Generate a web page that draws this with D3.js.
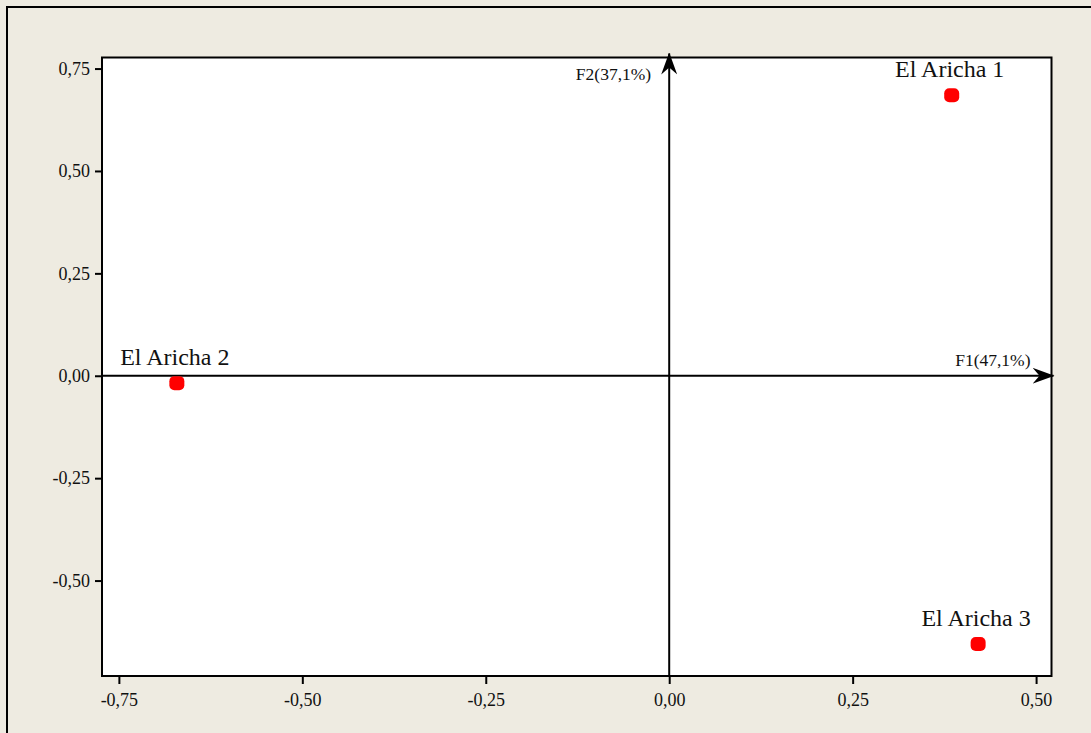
<!DOCTYPE html>
<html>
<head>
<meta charset="utf-8">
<script src="https://cdn.jsdelivr.net/npm/d3@7"></script>
<style>
  body { margin: 0; background: #eeebe1; }
  svg { display: block; }
  text { font-family: "Liberation Serif", "Times New Roman", serif; fill: #111; }
</style>
</head>
<body>
<div id="chart"></div>
<script>
// station names and factor scores
var sites = ["El Aricha 1", "El Aricha 2", "El Aricha 3"];
var f1Scores = [0.385, -0.671, 0.421];
var f2Scores = [0.685, -0.018, -0.655];
var xTicks = [-0.75, -0.50, -0.25, 0.00, 0.25, 0.50];
var yTicks = [-0.50, -0.25, 0.00, 0.25, 0.50, 0.75];
var xTitle = "F1(47,1%)";
var yTitle = "F2(37,1%)";

var W = 1091, H = 733;
var plot = {left: 102, top: 57.5, right: 1051.5, bottom: 676};

var locale = d3.formatLocale({decimal: ",", thousands: ".", grouping: [3], currency: ["", ""], minus: "-"});
var fmt = locale.format(".2f");

var x = d3.scaleLinear().domain([-0.773, 0.521]).range([plot.left, plot.right]);
var y = d3.scaleLinear().domain([-0.733, 0.777]).range([plot.bottom, plot.top]);

var svg = d3.select("#chart").append("svg")
    .attr("width", W).attr("height", H);

// outer frame
svg.append("rect")
   .attr("x", 7).attr("y", 7)
   .attr("width", W + 10).attr("height", H + 10)
   .attr("fill", "#eeebe1")
   .attr("stroke", "#000").attr("stroke-width", 2);

// plot area
svg.append("rect")
   .attr("x", plot.left).attr("y", plot.top)
   .attr("width", plot.right - plot.left).attr("height", plot.bottom - plot.top)
   .attr("fill", "#fff")
   .attr("stroke", "#000").attr("stroke-width", 2);

var xAxis = d3.axisBottom(x).tickValues(xTicks).tickFormat(fmt).tickSize(8).tickPadding(9);
var yAxis = d3.axisLeft(y).tickValues(yTicks).tickFormat(fmt).tickSize(7).tickPadding(5);

var gx = svg.append("g")
    .attr("transform", "translate(0," + plot.bottom + ")")
    .call(xAxis);
var gy = svg.append("g")
    .attr("transform", "translate(" + plot.left + ",0)")
    .call(yAxis);

[gx, gy].forEach(function(g) {
    g.select(".domain").remove();
    g.selectAll(".tick line").attr("stroke", "#000").attr("stroke-width", 2);
    g.selectAll(".tick text")
     .attr("font-family", "Liberation Serif, serif")
     .attr("font-size", 18)
     .attr("fill", "#111");
});

// arrow marker
var defs = svg.append("defs");
defs.append("marker")
    .attr("id", "arrow")
    .attr("viewBox", "0 0 22 16")
    .attr("refX", 21).attr("refY", 8)
    .attr("markerWidth", 22).attr("markerHeight", 16)
    .attr("markerUnits", "userSpaceOnUse")
    .attr("orient", "auto")
  .append("path")
    .attr("d", "M0,0 L22,8 L0,16 L7,8 Z")
    .attr("fill", "#000");

// factor axes through origin
svg.append("line")
   .attr("x1", plot.left).attr("x2", plot.right + 2)
   .attr("y1", y(0)).attr("y2", y(0))
   .attr("stroke", "#000").attr("stroke-width", 2)
   .attr("marker-end", "url(#arrow)");

svg.append("line")
   .attr("x1", x(0)).attr("x2", x(0))
   .attr("y1", plot.bottom).attr("y2", plot.top - 4)
   .attr("stroke", "#000").attr("stroke-width", 2)
   .attr("marker-end", "url(#arrow)");

svg.append("text")
   .attr("x", plot.right - 21).attr("y", y(0) - 10)
   .attr("text-anchor", "end")
   .attr("font-size", 17.5)
   .text(xTitle);

svg.append("text")
   .attr("x", x(0) - 18).attr("y", plot.top + 22)
   .attr("text-anchor", "end")
   .attr("font-size", 17.5)
   .text(yTitle);

// points
var pts = sites.map(function(s, i) { return {name: s, f1: f1Scores[i], f2: f2Scores[i]}; });

svg.selectAll("rect.pt")
   .data(pts)
   .enter()
   .append("rect")
   .attr("class", "pt")
   .attr("x", function(d) { return x(d.f1) - 7.5; })
   .attr("y", function(d) { return y(d.f2) - 7; })
   .attr("width", 15).attr("height", 14)
   .attr("rx", 5).attr("ry", 5)
   .attr("fill", "#ff0000");

svg.selectAll("text.lbl")
   .data(pts)
   .enter()
   .append("text")
   .attr("class", "lbl")
   .attr("x", function(d) { return x(d.f1) - 2; })
   .attr("y", function(d) { return y(d.f2) - 18; })
   .attr("text-anchor", "middle")
   .attr("font-size", 24)
   .text(function(d) { return d.name; });
</script>
</body>
</html>
